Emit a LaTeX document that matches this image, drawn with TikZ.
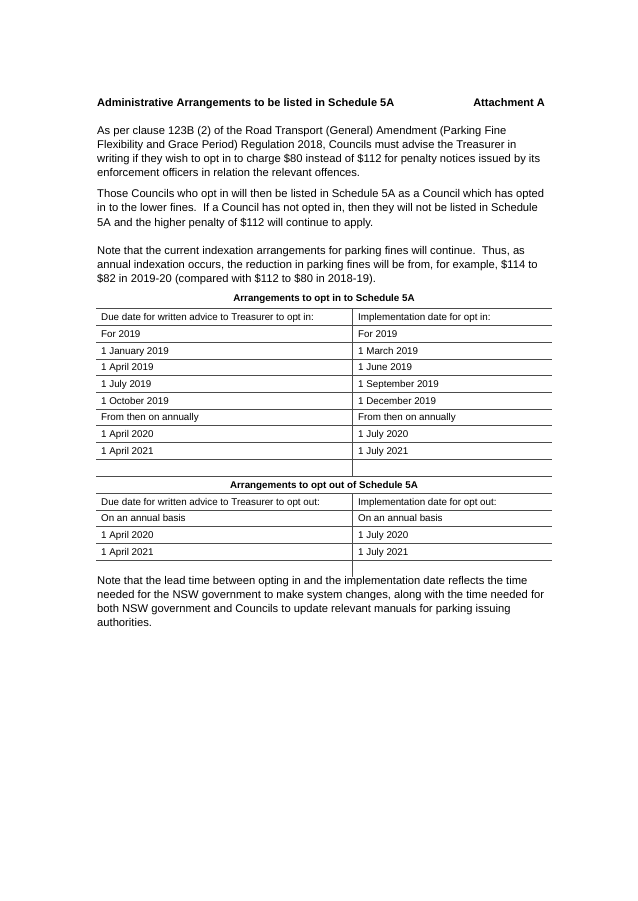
\documentclass[tikz,border=0pt]{standalone}
\usepackage{fontspec}
\setmainfont{Liberation Sans}
\usetikzlibrary{calc}

\tikzset{
  txt/.style={anchor=base west, inner sep=0pt, font=\fontsize{11.2}{12}\selectfont},
  cell/.style={anchor=base west, inner sep=0pt, font=\fontsize{9.8}{11}\selectfont},
  rule/.style={line width=0.6pt, color=black!70}
}

\begin{document}
\begin{tikzpicture}[x=1pt, y=-1pt]
\useasboundingbox [fill=white] (0, 0) rectangle (637, 901);

\node [txt, font=\bfseries\fontsize{11}{12}\selectfont] (head) at (97, 107) {Administrative Arrangements to be listed in Schedule 5A};
\node [txt, font=\bfseries\fontsize{11}{12}\selectfont, anchor=base east] (att) at (545, 107) {Attachment A};

\foreach \y/\t [count=\i] in {
  135/{As per clause 123B (2) of the Road Transport (General) Amendment (Parking Fine},
  149/{Flexibility and Grace Period) Regulation 2018, Councils must advise the Treasurer in},
  163/{writing if they wish to opt in to charge \$80 instead of \$112 for penalty notices issued by its},
  177/{enforcement officers in relation the relevant offences.},
  198/{Those Councils who opt in will then be listed in Schedule 5A as a Council which has opted},
  212/{in to the lower fines.\ \ If a Council has not opted in, then they will not be listed in Schedule},
  226/{5A and the higher penalty of \$112 will continue to apply.},
  254/{Note that the current indexation arrangements for parking fines will continue.\ \ Thus, as},
  268/{annual indexation occurs, the reduction in parking fines will be from, for example, \$114 to},
  282/{\$82 in 2019-20 (compared with \$112 to \$80 in 2018-19).},
  584/{Note that the lead time between opting in and the implementation date reflects the time},
  598/{needed for the NSW government to make system changes, along with the time needed for},
  612/{both NSW government and Councils to update relevant manuals for parking issuing},
  626/{authorities.}}
  \node [txt] (line\i) at (97, \y) {\t};

% table titles
\node [cell, font=\bfseries\fontsize{9.8}{11}\selectfont, anchor=base] (titlein) at (324, 301) {Arrangements to opt in to Schedule 5A};
\node [cell, font=\bfseries\fontsize{9.8}{11}\selectfont, anchor=base] (titleout) at (324, 488) {Arrangements to opt out of Schedule 5A};

% rules
\foreach \y in {308.3, 325.7, 342.3, 359, 375.7, 392.3, 409, 425.7, 442.3, 459, 476.7, 493.3, 510, 526.7, 543.3, 560.7}
  \draw [rule] (96, \y) -- (552, \y);
\coordinate (divtop) at (352.7, 308.3);
\coordinate (divmid) at (352.7, 476.7);
\coordinate (divlow) at (352.7, 493.3);
\coordinate (divend) at (352.7, 577);
\draw [rule] (divtop) -- (divmid);
\draw [rule] (divlow) -- (divend);

% opt in rows
\foreach \y/\a/\b [count=\i] in {
  320/{Due date for written advice to Treasurer to opt in:}/{Implementation date for opt in:},
  337/{For 2019}/{For 2019},
  354/{1 January 2019}/{1 March 2019},
  370/{1 April 2019}/{1 June 2019},
  387/{1 July 2019}/{1 September 2019},
  404/{1 October 2019}/{1 December 2019},
  420/{From then on annually}/{From then on annually},
  437/{1 April 2020}/{1 July 2020},
  454/{1 April 2021}/{1 July 2021}}
{
  \node [cell] (inl\i) at (101, \y) {\a};
  \node [cell] (inr\i) at (358, \y) {\b};
}

% opt out rows
\foreach \y/\a/\b [count=\i] in {
  505/{Due date for written advice to Treasurer to opt out:}/{Implementation date for opt out:},
  521/{On an annual basis}/{On an annual basis},
  538/{1 April 2020}/{1 July 2020},
  555/{1 April 2021}/{1 July 2021}}
{
  \node [cell] (outl\i) at (101, \y) {\a};
  \node [cell] (outr\i) at (358, \y) {\b};
}
\end{tikzpicture}
\end{document}
